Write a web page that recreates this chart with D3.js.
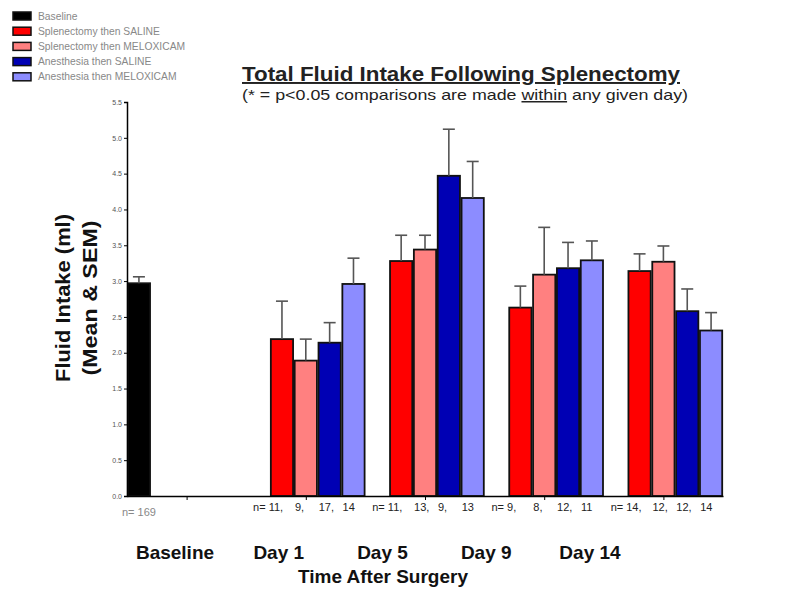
<!DOCTYPE html>
<html>
<head>
<meta charset="utf-8">
<script src="https://cdn.jsdelivr.net/npm/d3@7"></script>
<style>
  body { margin: 0; background: #fff; }
  svg { display: block; font-family: "Liberation Sans", Arial, sans-serif; }
</style>
</head>
<body>
<svg id="chart" width="787" height="600"></svg>
<script>
// ---------- data ----------
const seriesNames = ["Baseline", "Splenectomy then SALINE", "Splenectomy then MELOXICAM",
                     "Anesthesia then SALINE", "Anesthesia then MELOXICAM"];
const seriesColors = ["#000000", "#ff0000", "#ff8080", "#0000b4", "#8c8cff"];
const days = ["Day 1", "Day 5", "Day 9", "Day 14"];
const categoryLabels = ["Baseline", "Day 1", "Day 5", "Day 9", "Day 14"];

const baselineMean = 2.97;
const baselineSem = 0.09;
const baselineN = 169;

const splSalineMean   = [2.19, 3.28, 2.63, 3.14];
const splSalineSem    = [0.53, 0.36, 0.30, 0.24];
const splMeloxMean    = [1.89, 3.44, 3.09, 3.27];
const splMeloxSem     = [0.30, 0.20, 0.66, 0.22];
const anesSalineMean  = [2.14, 4.47, 3.18, 2.58];
const anesSalineSem   = [0.28, 0.65, 0.36, 0.31];
const anesMeloxMean   = [2.96, 4.16, 3.29, 2.31];
const anesMeloxSem    = [0.36, 0.51, 0.27, 0.25];

const splSalineN  = [11, 11, 9, 14];
const splMeloxN   = [9, 13, 8, 12];
const anesSalineN = [17, 9, 12, 12];
const anesMeloxN  = [14, 13, 11, 14];

const yTicks = [0, 0.5, 1, 1.5, 2, 2.5, 3, 3.5, 4, 4.5, 5, 5.5];

// ---------- build ----------
const groupMeans = [splSalineMean, splMeloxMean, anesSalineMean, anesMeloxMean];
const groupSems  = [splSalineSem, splMeloxSem, anesSalineSem, anesMeloxSem];
const groupNs    = [splSalineN, splMeloxN, anesSalineN, anesMeloxN];

const bars = [{slot: 0, mean: baselineMean, sem: baselineSem, color: seriesColors[0]}];
days.forEach((d, di) => {
  groupMeans.forEach((m, si) => {
    bars.push({slot: 6 + di * 5 + si, mean: m[di], sem: groupSems[si][di], color: seriesColors[si + 1]});
  });
});

const svg = d3.select("#chart");
const x = d3.scaleLinear().domain([0, 25]).range([127, 723]);
const y = d3.scaleLinear().domain([0, 5.5]).range([496, 102]);
const slotW = x(1) - x(0);

// bars
svg.append("g").selectAll("rect").data(bars).join("rect")
  .attr("x", d => x(d.slot) + 0.8)
  .attr("y", d => y(d.mean))
  .attr("width", slotW - 1.6)
  .attr("height", d => y(0) - y(d.mean))
  .attr("fill", d => d.color)
  .attr("stroke", "#111")
  .attr("stroke-width", 1.8);

// error bars
const eb = svg.append("g").attr("stroke", "#555").attr("stroke-width", 1.6);
bars.forEach(d => {
  const cx = x(d.slot + 0.5);
  eb.append("line").attr("x1", cx).attr("x2", cx).attr("y1", y(d.mean)).attr("y2", y(d.mean + d.sem));
  eb.append("line").attr("x1", cx - 6).attr("x2", cx + 6).attr("y1", y(d.mean + d.sem)).attr("y2", y(d.mean + d.sem));
});

// y axis
const yAxis = d3.axisLeft(y).tickValues(yTicks).tickFormat(d3.format(".1f")).tickSize(3).tickPadding(2);
const ga = svg.append("g").attr("transform", `translate(${x(0)},0)`).call(yAxis);
ga.select(".domain").attr("stroke", "#000").attr("stroke-width", 1.5);
ga.selectAll(".tick line").attr("stroke", "#000");
ga.selectAll(".tick text").attr("font-size", 7).attr("fill", "#555").attr("font-family", "Liberation Sans, Arial");

// x axis
const xAxis = d3.axisBottom(x).tickValues([2.5, 7.5, 12.5, 17.5, 22.5]).tickFormat("").tickSize(4).tickSizeOuter(0);
const gx = svg.append("g").attr("transform", `translate(0,${y(0)})`).call(xAxis);
gx.select(".domain").attr("stroke", "#000").attr("stroke-width", 1.5);
gx.selectAll(".tick line").attr("stroke", "#000");

// n labels
svg.append("text").attr("x", x(0.5)).attr("y", 516).attr("text-anchor", "middle")
  .attr("font-size", 11).attr("fill", "#888").text("n= " + baselineN);
days.forEach((d, di) => {
  const ns = groupNs.map(a => a[di]);
  const t = svg.append("text").attr("y", 511).attr("font-size", 11).attr("fill", "#222");
  ns.forEach((n, si) => {
    const label = (si === 0 ? "n= " : "") + n + (si < 3 ? "," : "");
    t.append("tspan").attr("x", si === 0 ? x(6 + di * 5) - 17 : x(6 + di * 5 + si) + 1).text(label);
  });
});

// category labels
const xl = d3.scalePoint().domain(categoryLabels).range([175, 590]);
svg.append("g").selectAll("text").data(categoryLabels).join("text")
  .attr("x", d => xl(d)).attr("y", 559).attr("text-anchor", "middle")
  .attr("font-size", 19).attr("font-weight", "bold").attr("fill", "#111").text(d => d);

svg.append("text").attr("x", 383).attr("y", 583).attr("text-anchor", "middle")
  .attr("font-size", 19).attr("font-weight", "bold").attr("fill", "#111").text("Time After Surgery");

// y title
const yt = svg.append("text").attr("transform", "translate(0,298) rotate(-90)")
  .attr("text-anchor", "middle").attr("font-size", 20).attr("font-weight", "bold").attr("fill", "#111");
yt.append("tspan").attr("x", 0).attr("y", 70).attr("textLength", 168).attr("lengthAdjust", "spacingAndGlyphs").text("Fluid Intake (ml)");
yt.append("tspan").attr("x", 0).attr("y", 97).attr("textLength", 155).attr("lengthAdjust", "spacingAndGlyphs").text("(Mean & SEM)");

// title
svg.append("text").attr("x", 242).attr("y", 81)
  .attr("font-size", 19.5).attr("font-weight", "bold").attr("fill", "#222")
  .attr("textLength", 438).attr("lengthAdjust", "spacingAndGlyphs")
  .attr("text-decoration", "underline").text("Total Fluid Intake Following Splenectomy");
const sub = svg.append("text").attr("x", 242).attr("y", 100)
  .attr("font-size", 15).attr("fill", "#222")
  .attr("textLength", 446).attr("lengthAdjust", "spacingAndGlyphs");
sub.append("tspan").text("(* = p<0.05 comparisons are made ");
sub.append("tspan").attr("text-decoration", "underline").text("within");
sub.append("tspan").text(" any given day)");

// legend
const lg = svg.append("g").selectAll("g").data(seriesNames).join("g")
  .attr("transform", (d, i) => `translate(13,${16 + i * 15.2})`);
lg.append("rect").attr("x", 0).attr("y", -4).attr("width", 18).attr("height", 8)
  .attr("fill", (d, i) => seriesColors[i]).attr("stroke", "#111").attr("stroke-width", 1.5);
lg.append("text").attr("x", 25).attr("y", 3.5).attr("font-size", 10.3).attr("fill", "#888").text(d => d);
</script>
</body>
</html>
